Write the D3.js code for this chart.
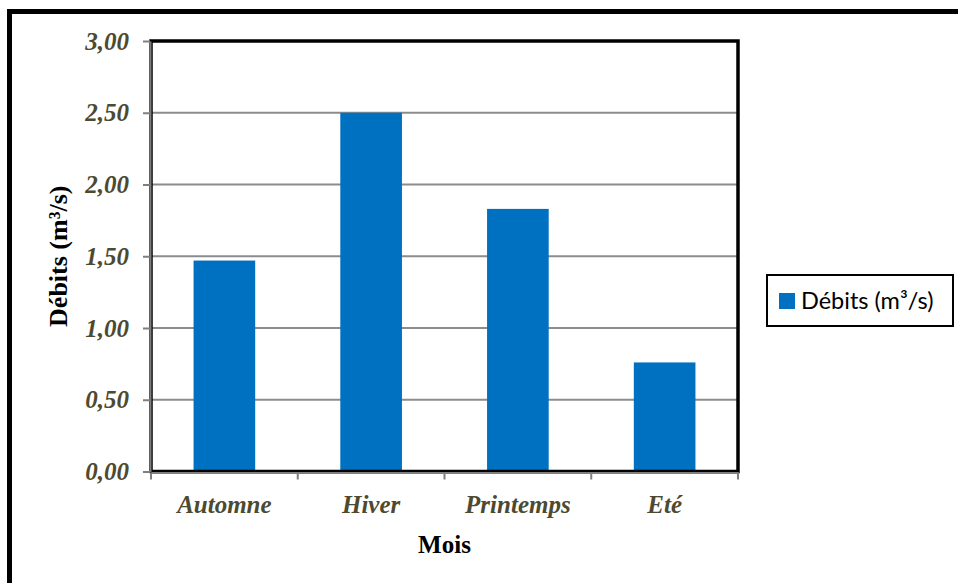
<!DOCTYPE html>
<html>
<head>
<meta charset="utf-8">
<script src="https://cdn.jsdelivr.net/npm/d3@7"></script>
<style>
  html, body { margin: 0; padding: 0; background: #fff; }
  svg { display: block; }
</style>
</head>
<body>
<svg id="chart" width="958" height="583"></svg>
<script>
// Débits saisonniers moyens
const categories = ["Automne", "Hiver", "Printemps", "Eté"];
const debits = [1.47, 2.50, 1.83, 0.76];
const yTicks = [0, 0.5, 1, 1.5, 2, 2.5, 3];
const seriesName = "Débits (m³/s)";
const yTitle = "Débits (m³/s)";
const xTitle = "Mois";

const svg = d3.select("#chart");
const W = 958, H = 583;
const plot = { left: 151, right: 738, top: 41, bottom: 471.5 };
const labelColor = "#4d4a30";
const barColor = "#0070C0";
const gridColor = "#8c8c8c";
const serif = "'Liberation Serif', 'Times New Roman', serif";

svg.append("rect").attr("width", W).attr("height", H).attr("fill", "#fff");

// outer frame (runs off the right and bottom edges)
svg.append("rect")
  .attr("x", 9.5).attr("y", 11.5)
  .attr("width", 1000).attr("height", 700)
  .attr("fill", "none").attr("stroke", "#000").attr("stroke-width", 5);

const x = d3.scaleBand()
  .domain(categories)
  .range([plot.left, plot.right])
  .paddingInner(0.58)
  .paddingOuter(0.29);

const y = d3.scaleLinear()
  .domain([0, 3])
  .range([plot.bottom, plot.top]);

// horizontal gridlines
svg.append("g")
  .selectAll("line")
  .data(yTicks.filter(t => t > 0 && t < 3))
  .join("line")
  .attr("x1", plot.left).attr("x2", plot.right)
  .attr("y1", d => y(d)).attr("y2", d => y(d))
  .attr("stroke", gridColor).attr("stroke-width", 2);

// bars
svg.append("g")
  .selectAll("rect")
  .data(categories.map((c, i) => ({ c, v: debits[i] })))
  .join("rect")
  .attr("x", d => x(d.c))
  .attr("y", d => y(d.v))
  .attr("width", x.bandwidth())
  .attr("height", d => y(0) - y(d.v))
  .attr("fill", barColor);

// plot area border
svg.append("rect")
  .attr("x", plot.left).attr("y", plot.top)
  .attr("width", plot.right - plot.left)
  .attr("height", plot.bottom - plot.top)
  .attr("fill", "none").attr("stroke", "#000").attr("stroke-width", 3.5);

// y axis
const fmt = d => d3.format(".2f")(d).replace(".", ",");
const yAxis = svg.append("g")
  .attr("transform", `translate(${plot.left - 1},0)`)
  .call(d3.axisLeft(y).tickValues(yTicks).tickFormat(fmt).tickSize(7).tickPadding(14).tickSizeOuter(0));
yAxis.select(".domain").attr("stroke", "#7f7f7f").attr("stroke-width", 2);
yAxis.selectAll(".tick line").attr("stroke", "#7f7f7f").attr("stroke-width", 2);
yAxis.selectAll(".tick text")
  .attr("fill", labelColor)
  .style("font-family", serif)
  .style("font-size", "25px")
  .style("font-weight", "bold")
  .style("font-style", "italic");

// x axis
const xAxis = svg.append("g")
  .attr("transform", `translate(0,${plot.bottom + 1})`)
  .call(d3.axisBottom(x).tickSize(0).tickPadding(23).tickSizeOuter(0));
xAxis.select(".domain").attr("stroke", "#7f7f7f").attr("stroke-width", 2);
xAxis.selectAll(".tick text")
  .attr("fill", labelColor)
  .style("font-family", serif)
  .style("font-size", "25px")
  .style("font-weight", "bold")
  .style("font-style", "italic");

// category boundary ticks
const step = x.step();
const bounds = categories.map(c => x(c) - step * x.paddingInner() / 2)
  .concat([x(categories[categories.length - 1]) + x.bandwidth() + step * x.paddingInner() / 2]);
svg.append("g")
  .selectAll("line")
  .data(bounds)
  .join("line")
  .attr("x1", d => d).attr("x2", d => d)
  .attr("y1", plot.bottom + 1).attr("y2", plot.bottom + 8)
  .attr("stroke", "#7f7f7f").attr("stroke-width", 2);

// axis titles
svg.append("text")
  .attr("transform", `translate(67,${(plot.top + plot.bottom) / 2}) rotate(-90)`)
  .attr("text-anchor", "middle")
  .style("font-family", serif)
  .style("font-size", "26px")
  .style("font-weight", "bold")
  .attr("fill", "#000")
  .text(yTitle);

svg.append("text")
  .attr("x", (plot.left + plot.right) / 2)
  .attr("y", 553)
  .attr("text-anchor", "middle")
  .style("font-family", serif)
  .style("font-size", "25px")
  .style("font-weight", "bold")
  .attr("fill", "#000")
  .text(xTitle);

// legend
const lg = svg.append("g").attr("transform", "translate(767,275)");
lg.append("rect")
  .attr("width", 186).attr("height", 51)
  .attr("fill", "#fff").attr("stroke", "#000").attr("stroke-width", 2);
lg.append("rect")
  .attr("x", 12).attr("y", 18).attr("width", 16).attr("height", 16)
  .attr("fill", barColor);
lg.append("text")
  .attr("x", 34).attr("y", 34)
  .style("font-family", "Lato, 'Noto Sans', sans-serif")
  .style("font-size", "23.5px")
  .attr("fill", "#000")
  .text(seriesName);
</script>
</body>
</html>
